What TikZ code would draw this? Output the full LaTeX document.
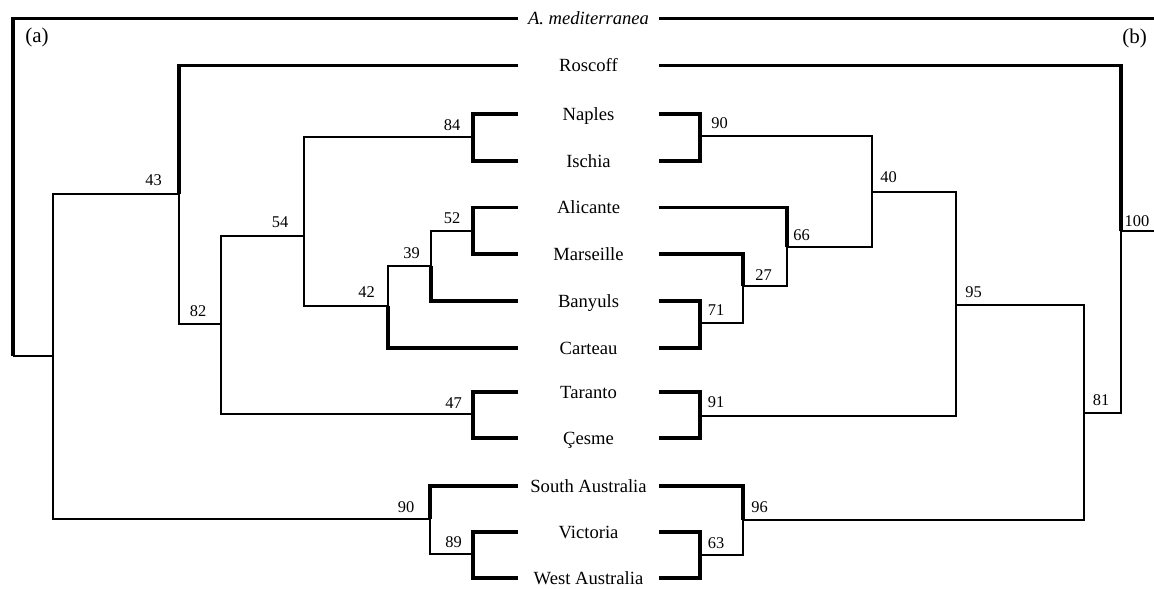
\documentclass[tikz,border=0pt]{standalone}
\usepackage{fontspec}
\setmainfont{Liberation Serif}
\tikzset{
	taxon/.style={inner sep=0pt, minimum width=70.5pt, text height=6.2pt, text depth=0pt, font=\fontsize{9.3}{11}\selectfont},
	support/.style={inner sep=0pt, font=\fontsize{8.2}{9.8}\selectfont},
	panel/.style={inner sep=0pt, font=\fontsize{10.5}{12}\selectfont},
	twig/.style={line width=1.6pt},
	branch/.style={line width=1.4pt}
}

\begin{document}
\begin{tikzpicture}[x=0.5pt, y=-0.5pt]
	\useasboundingbox (0,0) rectangle (1154,588);

	\node[taxon] (Amed) at (588.5,18.5) {\textit{A. mediterranea}};
	\node[taxon] (Roscoff) at (588.5,65.5) {Roscoff};
	\node[taxon] (Naples) at (588.5,114) {Naples};
	\node[taxon] (Ischia) at (588.5,161) {Ischia};
	\node[taxon] (Alicante) at (588.5,207.5) {Alicante};
	\node[taxon] (Marseille) at (588.5,254) {Marseille};
	\node[taxon] (Banyuls) at (588.5,301) {Banyuls};
	\node[taxon] (Carteau) at (588.5,348) {Carteau};
	\node[taxon] (Taranto) at (588.5,392) {Taranto};
	\node[taxon] (Cesme) at (588.5,438) {Çesme};
	\node[taxon] (SAus) at (588.5,486) {South Australia};
	\node[taxon] (Victoria) at (588.5,532) {Victoria};
	\node[taxon] (WAus) at (588.5,578) {West Australia};

	\node[panel] (PanelA) at (37,37.5) {(a)};
	\node[panel] (PanelB) at (1134.5,38.5) {(b)};

	\coordinate (RootL) at (13,356);
	\coordinate (L0) at (53,356);
	\coordinate (L43) at (179,194);
	\coordinate (L82) at (221,324);
	\coordinate (L54) at (304,236);
	\coordinate (L84) at (473,137);
	\coordinate (L42) at (388,306);
	\coordinate (L39) at (431,266);
	\coordinate (L52) at (473,231);
	\coordinate (L47) at (473,414);
	\coordinate (L90) at (430,519);
	\coordinate (L89) at (473,554);

	\coordinate (RTop) at (1154,18.5);
	\coordinate (REdge) at (1154,231);
	\coordinate (R100) at (1121,231);
	\coordinate (R81) at (1084,413);
	\coordinate (R95) at (956,305);
	\coordinate (R40) at (872,192);
	\coordinate (R90) at (700,136);
	\coordinate (R66) at (787,247);
	\coordinate (R27) at (743,286);
	\coordinate (R71) at (700,323);
	\coordinate (R91) at (700,416);
	\coordinate (R96) at (743,520);
	\coordinate (R63) at (700,555);

	\draw[twig] (RootL) |- (Amed.west);
	\draw[branch] (RootL) -- (L0);
	\draw[branch] (L0) |- (L43);
	\draw[branch] (L0) |- (L90);
	\draw[twig] (L43) |- (Roscoff.west);
	\draw[branch] (L43) |- (L82);
	\draw[branch] (L82) |- (L54);
	\draw[branch] (L82) |- (L47);
	\draw[branch] (L54) |- (L84);
	\draw[branch] (L54) |- (L42);
	\draw[twig] (L84) |- (Naples.west);
	\draw[twig] (L84) |- (Ischia.west);
	\draw[branch] (L42) |- (L39);
	\draw[twig] (L42) |- (Carteau.west);
	\draw[branch] (L39) |- (L52);
	\draw[twig] (L39) |- (Banyuls.west);
	\draw[twig] (L52) |- (Alicante.west);
	\draw[twig] (L52) |- (Marseille.west);
	\draw[twig] (L47) |- (Taranto.west);
	\draw[twig] (L47) |- (Cesme.west);
	\draw[twig] (L90) |- (SAus.west);
	\draw[branch] (L90) |- (L89);
	\draw[twig] (L89) |- (Victoria.west);
	\draw[twig] (L89) |- (WAus.west);

	\draw[twig] (Amed.east) -- (RTop);
	\draw[branch] (R100) -- (REdge);
	\draw[twig] (R100) |- (Roscoff.east);
	\draw[branch] (R100) |- (R81);
	\draw[branch] (R81) |- (R95);
	\draw[branch] (R81) |- (R96);
	\draw[branch] (R95) |- (R40);
	\draw[branch] (R95) |- (R91);
	\draw[branch] (R40) |- (R90);
	\draw[branch] (R40) |- (R66);
	\draw[twig] (R90) |- (Naples.east);
	\draw[twig] (R90) |- (Ischia.east);
	\draw[twig] (R66) |- (Alicante.east);
	\draw[branch] (R66) |- (R27);
	\draw[twig] (R27) |- (Marseille.east);
	\draw[branch] (R27) |- (R71);
	\draw[twig] (R71) |- (Banyuls.east);
	\draw[twig] (R71) |- (Carteau.east);
	\draw[twig] (R91) |- (Taranto.east);
	\draw[twig] (R91) |- (Cesme.east);
	\draw[twig] (R96) |- (SAus.east);
	\draw[branch] (R96) |- (R63);
	\draw[twig] (R63) |- (Victoria.east);
	\draw[twig] (R63) |- (WAus.east);

	\node[support] (sL43) at (153.5,180) {43};
	\node[support] (sL54) at (280,222) {54};
	\node[support] (sL84) at (452,125.5) {84};
	\node[support] (sL52) at (452,218) {52};
	\node[support] (sL39) at (411.5,253) {39};
	\node[support] (sL42) at (366.5,292) {42};
	\node[support] (sL82) at (198,311) {82};
	\node[support] (sL47) at (453.5,403) {47};
	\node[support] (sL90) at (406,507) {90};
	\node[support] (sL89) at (453.5,542) {89};

	\node[support] (sR90) at (719.5,123) {90};
	\node[support] (sR40) at (888.5,177) {40};
	\node[support] (sR66) at (801.5,235) {66};
	\node[support] (sR27) at (763.5,275) {27};
	\node[support] (sR71) at (716,310) {71};
	\node[support] (sR95) at (973.5,292) {95};
	\node[support] (sR91) at (716,402) {91};
	\node[support] (sR81) at (1101,400) {81};
	\node[support] (sR100) at (1137,221) {100};
	\node[support] (sR96) at (759.5,507.5) {96};
	\node[support] (sR63) at (716,543) {63};
\end{tikzpicture}
\end{document}
